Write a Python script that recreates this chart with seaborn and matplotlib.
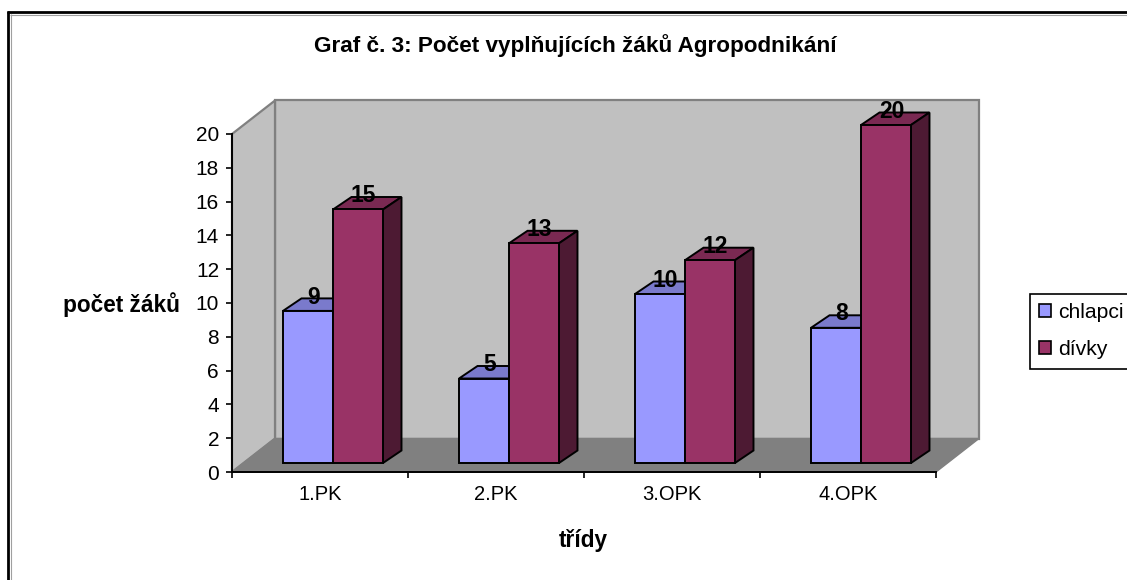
import matplotlib
matplotlib.use("Agg")
import matplotlib.pyplot as plt
from matplotlib.lines import Line2D
from matplotlib.patches import Polygon, Patch
import pandas as pd
import seaborn as sns

tridy = ["1.PK", "2.PK", "3.OPK", "4.OPK"]
chlapci = [9, 5, 10, 8]
divky = [15, 13, 12, 20]
series_names = ["chlapci", "dívky"]
y_ticks = list(range(0, 21, 2))

C_FRONT = ["#9999FF", "#993366"]
C_TOP = ["#7A7ACC", "#7A2952"]
C_SIDE = ["#5C5C99", "#4D1A33"]

sns.set_theme(style="white")
plt.rcParams["font.family"] = ["Liberation Sans", "DejaVu Sans"]

W, H = 1127, 580
fig = plt.figure(figsize=(W / 100, H / 100), dpi=100, facecolor="white")

def box(x0, x1, ytop, ybot):
    return [x0 / W, 1 - ybot / H, (x1 - x0) / W, (ybot - ytop) / H]

ax = fig.add_axes(box(232, 936, 134, 472), facecolor="none")
ax_b = fig.add_axes(box(245, 949, 125, 463), facecolor="none", zorder=3)

df = pd.DataFrame({
    "trida": tridy * 2,
    "pocet": chlapci + divky,
    "serie": [series_names[0]] * 4 + [series_names[1]] * 4,
})

sns.barplot(data=df, x="trida", y="pocet", hue="serie", order=tridy,
            hue_order=series_names, palette=C_FRONT, width=0.568, gap=0,
            edgecolor="black", linewidth=1.4, saturation=1, legend=False, ax=ax_b)

# Scales (axis units)
XMIN, XMAX = -0.5, 3.5
for a in (ax, ax_b):
    a.set_xlim(XMIN, XMAX)
    a.set_ylim(0, 20)
ax_b.axis("off")

px_x = (XMAX - XMIN) / 704
px_y = 20 / 338

# walls and floor
dx, dy = 43 * px_x, 33.5 * px_y
wall_kw = dict(edgecolor="#808080", linewidth=1.6, clip_on=False, joinstyle="miter")
ax.add_patch(Polygon([(XMIN + dx, dy), (XMAX + dx, dy), (XMAX + dx, 20 + dy), (XMIN + dx, 20 + dy)],
                     facecolor="#C0C0C0", zorder=1, **wall_kw))
ax.add_patch(Polygon([(XMIN, 0), (XMIN + dx, dy), (XMIN + dx, 20 + dy), (XMIN, 20)],
                     facecolor="#C0C0C0", zorder=1, **wall_kw))
ax.add_patch(Polygon([(XMIN, 0), (XMAX, 0), (XMAX + dx, dy), (XMIN + dx, dy)],
                     facecolor="#808080", zorder=1.5, edgecolor="#808080", linewidth=1, clip_on=False))

# bar depth
bdx, bdy = 18.5 * px_x, 12.5 * px_y
edge_kw = dict(edgecolor="black", linewidth=1.4, clip_on=False, joinstyle="miter")
for s, cont in enumerate(ax_b.containers):
    for bar in cont:
        x0, w, h = bar.get_x(), bar.get_width(), bar.get_height()
        x1 = x0 + w
        z = 2 + 2 * s
        ax_b.add_patch(Polygon([(x0, h), (x1, h), (x1 + bdx, h + bdy), (x0 + bdx, h + bdy)],
                               facecolor=C_TOP[s], zorder=z, **edge_kw))
        ax_b.add_patch(Polygon([(x1, 0), (x1 + bdx, bdy), (x1 + bdx, h + bdy), (x1, h)],
                               facecolor=C_SIDE[s], zorder=z, **edge_kw))
        bar.set_zorder(z + 1)
        bar.set_clip_on(False)
        ax_b.annotate(f"{int(h)}", xy=(x0 + w / 2, h), xytext=(4.0, 10.0),
                      textcoords="offset points", ha="center", va="center",
                      fontsize=16.5, fontweight="bold", color="black", zorder=10)

# axes
for name in ("top", "right"):
    ax.spines[name].set_visible(False)
for name in ("left", "bottom"):
    ax.spines[name].set_visible(True)
    ax.spines[name].set_color("black")
    ax.spines[name].set_linewidth(1.4)
    ax.spines[name].set_zorder(2.5)
ax.set_yticks(y_ticks)
ax.set_yticklabels([str(v) for v in y_ticks])
ax.set_xticks([XMIN + i for i in range(len(tridy) + 1)])
ax.set_xticklabels([""] * (len(tridy) + 1))
ax.set_xticks(range(len(tridy)), labels=tridy, minor=True)
ax.tick_params(axis="y", which="major", left=True, length=4.3, width=1.2, color="black",
               labelsize=15, labelcolor="black", pad=5)
ax.tick_params(axis="x", which="major", bottom=True, length=4.3, width=1.2, color="black")
ax.tick_params(axis="x", which="minor", bottom=False, length=0, labelsize=14.5,
               labelcolor="black", pad=9)

ax.set_xlabel("třídy", fontsize=16.3, fontweight="bold", color="black")
ax.xaxis.set_label_coords((583 - 232) / 704, (472 - 541) / 338, transform=ax.transAxes)
ax.xaxis.label.set_va("center")
ax.set_ylabel("počet žáků", fontsize=16.3, fontweight="bold", color="black",
              rotation=0, ha="center", va="center")
ax.yaxis.set_label_coords((121.5 - 232) / 704, (472 - 305) / 338, transform=ax.transAxes)

fig.text(575 / W, 1 - 46 / H, "Graf č. 3: Počet vyplňujících žáků Agropodnikání",
         ha="center", va="center", fontsize=16.2, fontweight="bold", color="black")

# legend
handles = [Patch(facecolor=c, edgecolor="black", linewidth=1.2) for c in C_FRONT]
leg = fig.legend(handles, series_names, loc="upper left",
                 bbox_to_anchor=(1030 / W, 1 - 294 / H), bbox_transform=fig.transFigure,
                 fontsize=15.2, frameon=True, fancybox=False, edgecolor="black", facecolor="white",
                 framealpha=1, handlelength=0.57, handleheight=0.57, handletextpad=0.33,
                 labelspacing=0.85, borderpad=0.44, borderaxespad=0, labelcolor="black")
leg.get_frame().set_linewidth(1.2)

# chart-area border
def fig_line(xs, ys, c, lw):
    fig.add_artist(Line2D([x / W for x in xs], [1 - y / H for y in ys], color=c, linewidth=lw,
                          solid_capstyle="butt"))
fig_line([10, W], [14.5, 14.5], "#A0A0A0", 0.8)
fig_line([10.5, 10.5], [14, H], "#A0A0A0", 0.8)
fig_line([8, 8], [11, H], "black", 2.0)
fig_line([7, W], [12, 12], "black", 2.0)

fig.savefig("out.png", dpi=100)
